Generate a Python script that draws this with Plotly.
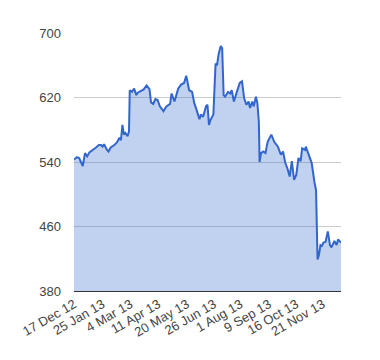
import plotly.graph_objects as go

dates = [
    "2012-12-17", "2012-12-21", "2012-12-24", "2012-12-29", "2013-01-01", "2013-01-04",
    "2013-01-07", "2013-01-12", "2013-01-16", "2013-01-20", "2013-01-23", "2013-01-25",
    "2013-01-27", "2013-01-31", "2013-02-02", "2013-02-05", "2013-02-10", "2013-02-14",
    "2013-02-17", "2013-02-19", "2013-02-21", "2013-02-23", "2013-02-25", "2013-02-28",
    "2013-03-02", "2013-03-03", "2013-03-06", "2013-03-09", "2013-03-12", "2013-03-14",
    "2013-03-18", "2013-03-22", "2013-03-26", "2013-03-30", "2013-04-01", "2013-04-04",
    "2013-04-07", "2013-04-10", "2013-04-13", "2013-04-16", "2013-04-18", "2013-04-20",
    "2013-04-22", "2013-04-27", "2013-04-29", "2013-05-03", "2013-05-08", "2013-05-12",
    "2013-05-16", "2013-05-19", "2013-05-21", "2013-05-23", "2013-05-27", "2013-05-30",
    "2013-06-02", "2013-06-06", "2013-06-08", "2013-06-11", "2013-06-15", "2013-06-17",
    "2013-06-19", "2013-06-21", "2013-06-25", "2013-06-27", "2013-06-28", "2013-06-30",
    "2013-07-02", "2013-07-05", "2013-07-07", "2013-07-09", "2013-07-11", "2013-07-15",
    "2013-07-18", "2013-07-20", "2013-07-23", "2013-07-27", "2013-07-31", "2013-08-03",
    "2013-08-06", "2013-08-09", "2013-08-12", "2013-08-14", "2013-08-17", "2013-08-19",
    "2013-08-22", "2013-08-24", "2013-08-26", "2013-08-27", "2013-08-29", "2013-09-01",
    "2013-09-04", "2013-09-07", "2013-09-12", "2013-09-16", "2013-09-21", "2013-09-25",
    "2013-09-28", "2013-10-01", "2013-10-04", "2013-10-07", "2013-10-10", "2013-10-13",
    "2013-10-16", "2013-10-19", "2013-10-22", "2013-10-24", "2013-10-28", "2013-10-29",
    "2013-11-02", "2013-11-06", "2013-11-10", "2013-11-12", "2013-11-14", "2013-11-16",
    "2013-11-18", "2013-11-20", "2013-11-22", "2013-11-25", "2013-11-28", "2013-12-01",
    "2013-12-03", "2013-12-07", "2013-12-10", "2013-12-12", "2013-12-16",
]

values = [
    543, 546, 545, 535, 551, 547,
    552, 555, 558, 561, 561, 559,
    562, 555, 553, 558, 561, 565,
    570, 567, 586, 574, 576, 572,
    578, 629, 627, 631, 623, 626,
    628, 630, 635, 630, 614, 612,
    618, 617, 609, 605, 603, 606,
    609, 612, 625, 615, 631, 636,
    638, 647, 636, 629, 627, 613,
    605, 593, 599, 596, 609, 611,
    586, 592, 599, 640, 662, 660,
    673, 684, 681, 623, 621, 627,
    625, 629, 615, 627, 638, 640,
    619, 611, 615, 607, 615, 609,
    621, 613, 590, 540, 551, 553,
    551, 565, 574, 565, 559, 549,
    553, 539, 532, 522, 541, 518,
    524, 545, 541, 557, 555, 559,
    549, 539, 514, 505, 419, 425,
    437, 436, 440, 441, 454, 437,
    434, 442, 437, 444, 440,
]

tick_dates = ["2012-12-17", "2013-01-25", "2013-03-04", "2013-04-11", "2013-05-20",
              "2013-06-26", "2013-08-01", "2013-09-09", "2013-10-16", "2013-11-21"]
tick_labels = ["17 Dec 12", "25 Jan 13", "4 Mar 13", "11 Apr 13", "20 May 13",
               "26 Jun 13", "1 Aug 13", "9 Sep 13", "16 Oct 13", "21 Nov 13"]
y_ticks = [380, 460, 540, 620, 700]

fig = go.Figure(go.Scatter(
    x=dates, y=values, mode="lines", fill="tozeroy",
    line=dict(color="#3366cc", width=2),
    fillcolor="rgba(51,102,204,0.3)",
))

fig.update_layout(
    width=364, height=344,
    margin=dict(l=61, r=31, t=25, b=61),
    paper_bgcolor="white", plot_bgcolor="white",
    showlegend=False,
    font=dict(family="Liberation Sans, Arial, sans-serif", size=13, color="#444"),
)
fig.update_xaxes(
    range=["2012-12-17", "2013-12-16"],
    tickmode="array", tickvals=tick_dates, ticktext=tick_labels,
    tickangle=-30, showgrid=False, zeroline=False,
    showline=True, linecolor="#333", linewidth=1, ticks="",
)
fig.update_yaxes(
    range=[380, 700], tickmode="array", tickvals=y_ticks,
    showgrid=True, gridcolor="#cccccc", zeroline=False, ticks="",
    ticklabelstandoff=12,
)

fig.write_html("out.html")
